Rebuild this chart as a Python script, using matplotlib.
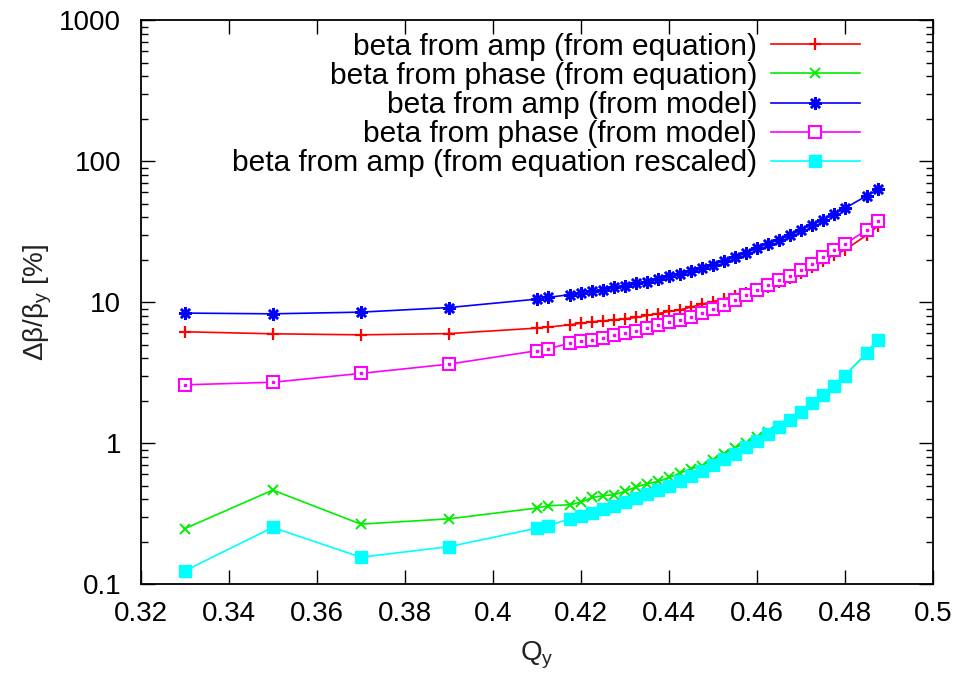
import numpy as np
import matplotlib
matplotlib.use("Agg")
import matplotlib.pyplot as plt

plt.rcParams["font.family"] = ["Liberation Sans", "DejaVu Sans"]

# tune values (Q_y)
qy = [0.33, 0.35, 0.37, 0.39, 0.41, 0.4125,
      0.4175, 0.42, 0.4225, 0.425, 0.4275, 0.43, 0.4325, 0.435, 0.4375,
      0.44, 0.4425, 0.445, 0.4475, 0.45, 0.4525, 0.455, 0.4575, 0.46,
      0.4625, 0.465, 0.4675, 0.47, 0.4725, 0.475, 0.4775, 0.48,
      0.485, 0.4875]

amp_eq = [6.16, 5.96, 5.86, 5.98, 6.54, 6.65,
          6.90, 7.10, 7.25, 7.36, 7.48, 7.62, 7.78, 8.04, 8.30,
          8.58, 8.81, 9.22, 9.68, 10.1, 10.55, 11.0, 11.6, 12.2,
          12.9, 13.8, 14.8, 16.1, 17.7, 19.7, 21.6, 23.5,
          30.0, 34.8]

phase_eq = [0.247, 0.464, 0.266, 0.290, 0.346, 0.359,
            0.365, 0.381, 0.411, 0.423, 0.430, 0.454, 0.488, 0.514, 0.534,
            0.570, 0.612, 0.657, 0.690, 0.762, 0.839, 0.93, 1.0, 1.1,
            1.2, 1.32, 1.46, 1.67, 1.93, 2.19, 2.53, 3.01,
            4.4, 5.42]

amp_model = [8.36, 8.26, 8.49, 9.15, 10.5, 10.8,
             11.3, 11.6, 11.9, 12.2, 12.8, 13.0, 13.6, 14.0, 14.6,
             15.2, 15.9, 16.5, 17.4, 18.4, 19.6, 20.8, 22.3, 24.2,
             25.9, 27.7, 29.7, 32.6, 35.3, 38.3, 42.3, 46.4,
             57.0, 63.2]

phase_model = [2.59, 2.70, 3.12, 3.63, 4.52, 4.65,
               5.12, 5.26, 5.40, 5.61, 5.80, 6.02, 6.29, 6.54, 6.90,
               7.21, 7.48, 7.90, 8.36, 8.91, 9.57, 10.4, 11.2, 12.1,
               13.2, 14.3, 15.4, 17.0, 18.6, 20.8, 23.4, 25.9,
               32.6, 37.8]

amp_eq_rescaled = [0.124, 0.252, 0.155, 0.184, 0.249, 0.259,
                   0.290, 0.302, 0.319, 0.340, 0.359, 0.385, 0.407, 0.435, 0.467,
                   0.500, 0.541, 0.580, 0.629, 0.694, 0.770, 0.84, 0.931, 1.03,
                   1.16, 1.30, 1.45, 1.66, 1.92, 2.18, 2.52, 3.00,
                   4.39, 5.40]

labels = ["beta from amp (from equation)",
          "beta from phase (from equation)",
          "beta from amp (from model)",
          "beta from phase (from model)",
          "beta from amp (from equation rescaled)"]

fig = plt.figure(figsize=(9.57, 6.74), dpi=100)
ax = fig.add_axes([0.147, 0.1335, 0.828, 0.8365])

ax.plot(qy, amp_eq, color="#ff0000", lw=1.2, marker="+", ms=8, mew=1.6,
        label=labels[0])
ax.plot(qy, phase_eq, color="#00ee00", lw=1.2, marker="x", ms=6.5, mew=1.4,
        label=labels[1])
ax.plot(qy, amp_model, color="#0000ff", lw=1.2, marker=(8, 2, 0), ms=9,
        mew=1.8, label=labels[2])
ax.plot(qy, phase_model, color="#ff00ff", lw=1.2, marker="s", ms=8,
        mfc="white", mew=1.5, label=labels[3])
ax.plot(qy, phase_model, ls="none", color="#ff00ff", marker="s", ms=2)
ax.plot(qy, amp_eq_rescaled, color="#00ffff", lw=1.2, marker="s", ms=8,
        label=labels[4])

ax.set_yscale("log")
ax.set_xlim(0.32, 0.5)
ax.set_ylim(0.1, 1000)
ax.set_xticks(np.arange(0.32, 0.5001, 0.02))
ax.set_xticklabels(["0.32", "0.34", "0.36", "0.38", "0.4", "0.42",
                    "0.44", "0.46", "0.48", "0.5"])
ax.set_yticks([0.1, 1, 10, 100, 1000])
ax.set_yticklabels(["0.1", "1", "10", "100", "1000"])

ax.tick_params(which="both", direction="in", top=True, right=True,
               labelsize=20, colors="black")
ax.tick_params(which="major", length=10, width=1)
ax.tick_params(which="minor", length=5, width=1)
ax.tick_params(axis="y", which="major", pad=14)
ax.tick_params(axis="x", which="major", pad=12)
ax.tick_params(axis="x", which="minor", bottom=False, top=False)
for s in ax.spines.values():
    s.set_linewidth(1.3)

ax.set_xlabel("Q$_\\mathregular{y}$", fontsize=20, color="#222222",
              labelpad=9)
ax.set_ylabel("\u0394\u03b2/\u03b2$_\\mathregular{y}$ [%]", fontsize=20,
              color="#222222", labelpad=4)

leg = ax.legend(loc="upper right", bbox_to_anchor=(0.908, 0.978),
                frameon=False, markerfirst=False, fontsize=21.5,
                handlelength=3.0, handletextpad=0.45, labelspacing=0.04,
                borderpad=0, borderaxespad=0)

fig.savefig("out.png", dpi=100)
